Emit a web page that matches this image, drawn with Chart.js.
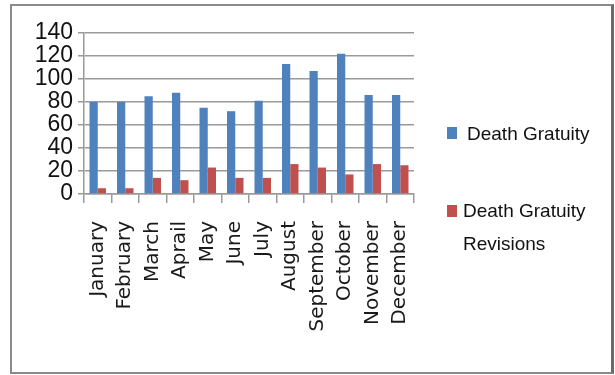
<!DOCTYPE html>
<html>
<head>
<meta charset="utf-8">
<script src="https://cdn.jsdelivr.net/npm/chart.js@4"></script>
<style>
    body { margin: 0; background: #fff; }
    #wrap { position: relative; width: 615px; height: 375px; overflow: hidden; }
    #frame {
        position: absolute; left: 10px; top: 4px; width: 599px; height: 366px;
        border: 2px solid #8a8a8a; border-right-width: 3px; border-right-color: #6a6a6a;
    }
    #chart { position: absolute; left: 0; top: 0; }
    .lg-item { position: absolute; font-family: "Liberation Sans", Arial, sans-serif; font-size: 19px; color: #111; line-height: 33px; }
    .lg-box { position: absolute; width: 10px; height: 12px; }
    .lg-text { position: absolute; width: 132px; }
</style>
</head>
<body>
<div id="wrap">
    <div id="frame"></div>
    <canvas id="chart" width="615" height="375"></canvas>
    <div id="legend"></div>
</div>
<script>
// Data
const months = ['January', 'February', 'March', 'Aprail', 'May', 'June', 'July',
    'August', 'September', 'October', 'November', 'December'];
const gratuity = [80, 80, 85, 88, 75, 72, 81, 113, 107, 122, 86, 86];
const revisions = [5, 5, 14, 12, 23, 14, 14, 26, 23, 17, 26, 25];
const yMax = 140;
const yStep = 20;
const seriesNames = ['Death Gratuity', 'Death Gratuity Revisions'];
const seriesColors = ['#4F81BD', '#C0504D'];

const GRID = '#9a9a9a';

const chart = new Chart(document.getElementById('chart').getContext('2d'), {
    type: 'bar',
    data: {
        labels: months,
        datasets: [
            { label: seriesNames[0], data: gratuity, backgroundColor: seriesColors[0] },
            { label: seriesNames[1], data: revisions, backgroundColor: seriesColors[1] },
        ]
    },
    options: {
        responsive: false,
        animation: false,
        devicePixelRatio: 1,
        categoryPercentage: 0.6,
        barPercentage: 1,
        layout: { padding: { left: 0, top: 33, right: 201, bottom: 0 } },
        plugins: { legend: { display: false }, tooltip: { enabled: false } },
        scales: {
            x: {
                grid: { drawOnChartArea: false, drawTicks: true, tickLength: 9, color: GRID, lineWidth: 1.5 },
                border: { color: GRID, width: 1.5 },
                ticks: {
                    minRotation: 90, maxRotation: 90, padding: 18, color: '#1a1a1a',
                    autoSkip: false,
                    font: { family: 'DejaVu Sans', size: 20 }
                },
                afterFit: s => { s.height = 375 - 194; }
            },
            y: {
                min: 0, max: yMax,
                grid: { color: GRID, lineWidth: 1.5, tickLength: 6 },
                border: { color: GRID, width: 1.5 },
                ticks: {
                    stepSize: yStep, autoSkip: false, padding: 5, color: '#111',
                    font: { family: 'Liberation Sans', size: 23 }
                },
                afterFit: s => { s.width = 84; }
            }
        }
    }
});

// HTML legend built from the chart's datasets
const legendPos = [
    { box: [447, 127], text: [467, 117] },
    { box: [447, 205], text: [463, 194] },
];
const legendEl = document.getElementById('legend');
chart.data.datasets.forEach((ds, i) => {
    const p = legendPos[i];
    const box = document.createElement('div');
    box.className = 'lg-box';
    box.style.left = p.box[0] + 'px';
    box.style.top = p.box[1] + 'px';
    box.style.background = ds.backgroundColor;
    const txt = document.createElement('div');
    txt.className = 'lg-item lg-text';
    txt.style.left = p.text[0] + 'px';
    txt.style.top = p.text[1] + 'px';
    txt.textContent = ds.label;
    legendEl.appendChild(box);
    legendEl.appendChild(txt);
});
</script>
</body>
</html>
